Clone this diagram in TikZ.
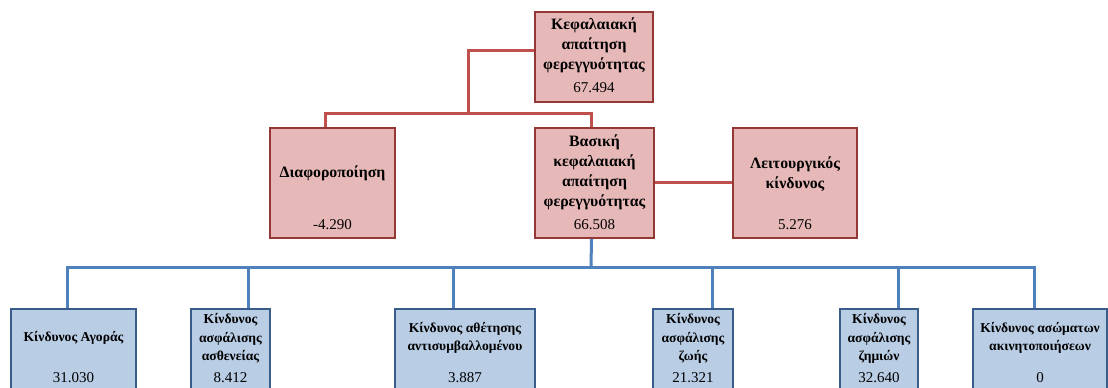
\documentclass[tikz,border=0pt]{standalone}
\usepackage{fontspec}
\setmainfont{Liberation Serif}
\usetikzlibrary{shadows}
\definecolor{redfill}{HTML}{E6B9B8}
\definecolor{redborder}{HTML}{953735}
\definecolor{redline}{HTML}{C0504D}
\definecolor{bluefill}{HTML}{B9CDE5}
\definecolor{blueborder}{HTML}{385D8A}
\definecolor{blueline}{HTML}{4F81BD}
\begin{document}
\begin{tikzpicture}[x=1pt,y=-1pt,
  redbox/.style={draw=redborder, line width=1.8pt, fill=redfill, inner sep=0pt,
    drop shadow={shadow xshift=1.2pt, shadow yshift=-1.2pt, opacity=0.3}},
  bluebox/.style={draw=blueborder, line width=1.8pt, fill=bluefill, inner sep=0pt,
    drop shadow={shadow xshift=1.2pt, shadow yshift=-1.2pt, opacity=0.3}},
  redconn/.style={draw=redline, line width=3pt},
  blueconn/.style={draw=blueline, line width=3pt},
  ttl/.style={font=\bfseries\fontsize{15.8}{20}\selectfont, align=center, inner sep=0pt},
  num/.style={font=\fontsize{15}{17}\selectfont, inner sep=0pt},
  bttl/.style={font=\bfseries\fontsize{13.6}{18.5}\selectfont, align=center, inner sep=0pt},
]
\clip (0,0) rectangle (1108,388);
\useasboundingbox (0,0) rectangle (1108,388);
\fill[white] (0,0) rectangle (1108,388);

\coordinate (rbar) at (468,113);
\coordinate (bbar) at (591,267);

\node[redbox, minimum width=118pt, minimum height=90pt] (top) at (594,57) {};
\node[redbox, minimum width=125pt, minimum height=110pt] (diaf) at (332.5,183) {};
\node[redbox, minimum width=119pt, minimum height=110pt] (basic) at (594.5,183) {};
\node[redbox, minimum width=124pt, minimum height=110pt] (leit) at (795,183) {};

\node[bluebox, minimum width=125pt, minimum height=91pt] (b1) at (73.5,354.5) {};
\node[bluebox, minimum width=79pt, minimum height=91pt] (b2) at (230.5,354.5) {};
\node[bluebox, minimum width=140pt, minimum height=91pt] (b3) at (465,354.5) {};
\node[bluebox, minimum width=80pt, minimum height=91pt] (b4) at (693,354.5) {};
\node[bluebox, minimum width=78pt, minimum height=91pt] (b5) at (879,354.5) {};
\node[bluebox, minimum width=134pt, minimum height=91pt] (b6) at (1040,354.5) {};

% connectors
\draw[redconn] ([yshift=7pt]top.west) -| (rbar);
\draw[redconn] ([xshift=-7.5pt]diaf.north) |- (rbar) -| ([xshift=-3pt]basic.north);
\draw[redconn] ([yshift=1pt]basic.east) -- ([yshift=1pt]leit.west);

\draw[blueconn] ([xshift=-3pt]basic.south) -- (bbar);
\draw[blueconn] ([xshift=-6.5pt]b1.north) |- (bbar) -| ([xshift=-6pt]b6.north);
\draw[blueconn] ([xshift=17.5pt]b2.north) -- ([xshift=17.5pt]b2.north |- bbar);
\draw[blueconn] ([xshift=-12pt]b3.north) -- ([xshift=-12pt]b3.north |- bbar);
\draw[blueconn] ([xshift=19pt]b4.north) -- ([xshift=19pt]b4.north |- bbar);
\draw[blueconn] ([xshift=19pt]b5.north) -- ([xshift=19pt]b5.north |- bbar);

% texts
\node[ttl] (top-t) at (594,45) {Κεφαλαιακή\\απαίτηση\\φερεγγυότητας};
\node[num] (top-n) at (594,88) {67.494};
\node[ttl] (diaf-t) at (332.5,173) {Διαφοροποίηση};
\node[num] (diaf-n) at (332.5,225) {-4.290};
\node[ttl] (basic-t) at (594.5,172.5) {Βασική\\κεφαλαιακή\\απαίτηση\\φερεγγυότητας};
\node[num] (basic-n) at (594.5,225) {66.508};
\node[ttl] (leit-t) at (795,174) {Λειτουργικός\\κίνδυνος};
\node[num] (leit-n) at (795,225) {5.276};

\node[bttl] (b1-t) at (73.5,338) {Κίνδυνος Αγοράς};
\node[num] (b1-n) at (73.5,378) {31.030};
\node[bttl] (b2-t) at (230.5,338.5) {Κίνδυνος\\ασφάλισης\\ασθενείας};
\node[num] (b2-n) at (230.5,378) {8.412};
\node[bttl] (b3-t) at (465,338) {Κίνδυνος αθέτησης\\αντισυμβαλλομένου};
\node[num] (b3-n) at (465,378) {3.887};
\node[bttl] (b4-t) at (693,338.5) {Κίνδυνος\\ασφάλισης\\ζωής};
\node[num] (b4-n) at (693,378) {21.321};
\node[bttl] (b5-t) at (879,338.5) {Κίνδυνος\\ασφάλισης\\ζημιών};
\node[num] (b5-n) at (879,378) {32.640};
\node[bttl] (b6-t) at (1040,338) {Κίνδυνος ασώματων\\ακινητοποιήσεων};
\node[num] (b6-n) at (1040,378) {0};
\end{tikzpicture}
\end{document}
